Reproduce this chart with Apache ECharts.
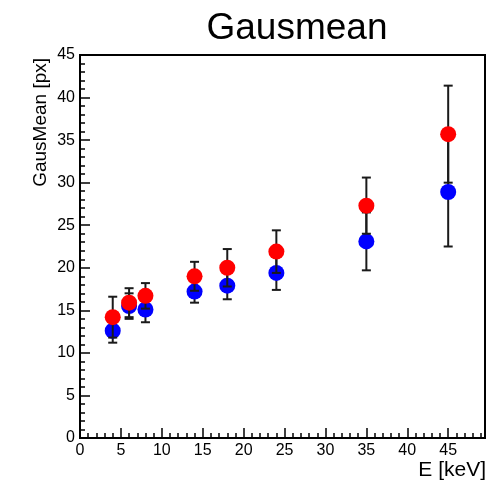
<!DOCTYPE html>
<html>
<head>
<meta charset="utf-8">
<script src="https://cdn.jsdelivr.net/npm/echarts@6/dist/echarts.min.js"></script>
<style>
  html, body { margin: 0; padding: 0; background: #fff; }
  #chart { width: 498px; height: 486px; }
</style>
</head>
<body>
<div id="chart"></div>
<script>
// Beam energies (keV)
const energy = [4, 6, 8, 14, 18, 24, 35, 45];
// Gaussian mean (px), first data set (red) and its uncertainties
const redMean = [14.2, 15.9, 16.7, 19.0, 20.0, 21.9, 27.3, 35.7];
const redErr  = [2.4, 1.7, 1.5, 1.7, 2.2, 2.5, 3.3, 5.7];
// Gaussian mean (px), second data set (blue) and its uncertainties
const blueMean = [12.6, 15.5, 15.1, 17.2, 17.9, 19.4, 23.1, 28.9];
const blueErr  = [1.4, 1.5, 1.5, 1.3, 1.6, 2.0, 3.4, 6.4];
// Axis tick labels
const xTicks = [0, 5, 10, 15, 20, 25, 30, 35, 40, 45];
const yTicks = [0, 5, 10, 15, 20, 25, 30, 35, 40, 45];

const FONT = '"Liberation Sans", Arial, Helvetica, sans-serif';

function points(xs, ys, es) {
  return xs.map((x, i) => [x, ys[i], es[i]]);
}

function errorBars(name, data, z) {
  return {
    name: name + ' err',
    type: 'custom',
    z: z,
    silent: true,
    data: data,
    encode: { x: 0, y: 1 },
    renderItem: function (params, api) {
      const x = api.value(0), y = api.value(1), e = api.value(2);
      const lo = api.coord([x, y - e]);
      const hi = api.coord([x, y + e]);
      const cap = 4.5;
      const style = { stroke: '#1a1a1a', lineWidth: 2 };
      return {
        type: 'group',
        children: [
          { type: 'line', shape: { x1: lo[0], y1: lo[1], x2: hi[0], y2: hi[1] }, style: style },
          { type: 'line', shape: { x1: lo[0] - cap, y1: lo[1], x2: lo[0] + cap, y2: lo[1] }, style: style },
          { type: 'line', shape: { x1: hi[0] - cap, y1: hi[1], x2: hi[0] + cap, y2: hi[1] }, style: style }
        ]
      };
    }
  };
}

const chart = echarts.init(document.getElementById('chart'), null, { renderer: 'canvas' });

chart.setOption({
  animation: false,
  backgroundColor: '#ffffff',
  textStyle: { fontFamily: FONT },
  title: {
    text: 'Gausmean',
    left: 292,
    top: 5,
    textAlign: 'center',
    textStyle: { fontFamily: FONT, fontSize: 37, fontWeight: 'normal', color: '#000' }
  },
  grid: {
    left: 80, right: 13, top: 55, bottom: 48,
    show: true, borderColor: '#000', borderWidth: 2, backgroundColor: 'transparent'
  },
  xAxis: {
    type: 'value',
    min: 0, max: 49.5, interval: 5,
    axisLine: { show: true, onZero: false, lineStyle: { color: '#000', width: 2 } },
    axisTick: { show: true, inside: true, length: 10, lineStyle: { color: '#000', width: 1.5 } },
    minorTick: { show: true, splitNumber: 5, length: 5, lineStyle: { color: '#000', width: 1.5 } },
    splitLine: { show: false },
    axisLabel: {
      color: '#000', fontSize: 16, fontFamily: FONT, margin: 5,
      showMaxLabel: false,
      formatter: v => xTicks.includes(v) ? String(v) : ''
    }
  },
  yAxis: {
    type: 'value',
    min: 0, max: 45, interval: 5,
    axisLine: { show: true, onZero: false, lineStyle: { color: '#000', width: 2 } },
    axisTick: { show: true, inside: true, length: 10, lineStyle: { color: '#000', width: 1.5 } },
    minorTick: { show: true, splitNumber: 5, length: 5, lineStyle: { color: '#000', width: 1.5 } },
    splitLine: { show: false },
    axisLabel: {
      color: '#000', fontSize: 16, fontFamily: FONT, margin: 5,
      formatter: v => yTicks.includes(v) ? String(v) : ''
    }
  },
  graphic: [
    {
      type: 'text',
      x: 41, y: 58,
      rotation: Math.PI / 2,
      style: {
        text: 'GausMean [px]',
        font: '19px ' + FONT,
        fill: '#000',
        align: 'right',
        verticalAlign: 'middle'
      }
    },
    {
      type: 'text',
      x: 486, y: 470,
      style: {
        text: 'E [keV]',
        font: '21px ' + FONT,
        fill: '#000',
        align: 'right',
        verticalAlign: 'middle'
      }
    }
  ],
  series: [
    errorBars('blue', points(energy, blueMean, blueErr), 1),
    {
      name: 'blue',
      type: 'scatter',
      z: 2,
      symbol: 'circle',
      symbolSize: 16,
      itemStyle: { color: '#0000ff', opacity: 1 },
      data: points(energy, blueMean, blueErr)
    },
    errorBars('red', points(energy, redMean, redErr), 3),
    {
      name: 'red',
      type: 'scatter',
      z: 4,
      symbol: 'circle',
      symbolSize: 16,
      itemStyle: { color: '#ff0000', opacity: 1 },
      data: points(energy, redMean, redErr)
    }
  ]
});
</script>
</body>
</html>
